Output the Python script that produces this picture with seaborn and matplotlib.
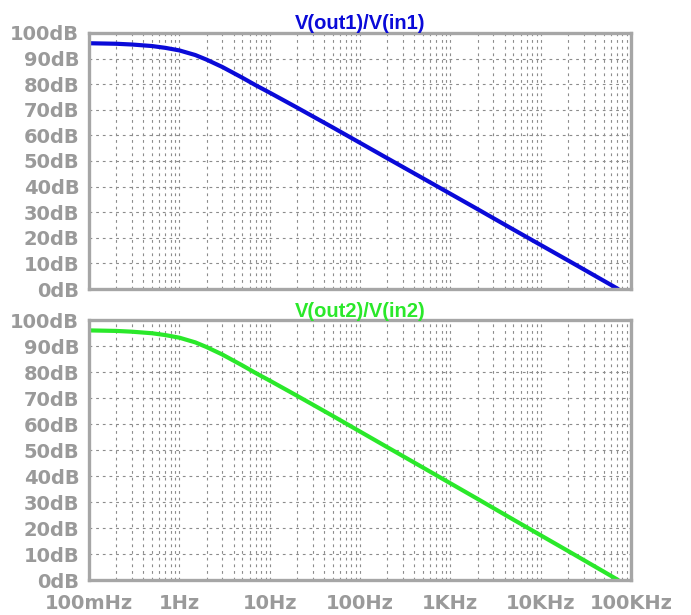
import numpy as np
import pandas as pd
import matplotlib
matplotlib.use("Agg")
import matplotlib.pyplot as plt
import matplotlib.ticker as mticker
import seaborn as sns

# Frequencies (Hz) and magnitudes (dB)
freq = [0.1, 0.2, 0.3, 0.5, 0.7, 1, 1.5, 2, 3, 5, 7, 10, 20, 50, 100, 200, 500,
        1000, 2000, 5000, 10000, 20000, 50000, 72000]
gain1_db = [96.0, 95.8, 95.5, 94.9, 94.2, 93.2, 91.4, 89.6, 86.7, 82.5, 79.6, 76.7,
            70.9, 63.1, 57.1, 51.1, 43.2, 37.2, 31.2, 23.2, 17.2, 11.2, 3.2, 0.0]
gain2_db = [96.0, 95.8, 95.5, 94.9, 94.2, 93.2, 91.4, 89.6, 86.7, 82.5, 79.6, 76.7,
            70.9, 63.1, 57.1, 51.1, 43.2, 37.2, 31.2, 23.2, 17.2, 11.2, 3.2, 0.0]

titles = ["V(out1)/V(in1)", "V(out2)/V(in2)"]
colors = ["#0a0ad8", "#2ae82a"]
y_ticks = [0, 10, 20, 30, 40, 50, 60, 70, 80, 90, 100]
y_labels = [f"{v}dB" for v in y_ticks]
x_ticks = [0.1, 1, 10, 100, 1000, 10000, 100000]
x_labels = ["100mHz", "1Hz", "10Hz", "100Hz", "1KHz", "10KHz", "100KHz"]

sns.set_style("white")
plt.rcParams["font.family"] = ["DejaVu Sans"]
plt.rcParams["font.weight"] = "bold"

W, H = 691, 615
fig = plt.figure(figsize=(W / 100, H / 100), dpi=100)
ax1 = fig.add_axes([89 / W, 1 - 289 / H, 542 / W, 256 / H])
ax2 = fig.add_axes([89 / W, 1 - 580 / H, 542 / W, 260 / H])

frame_col = "#a6a6a6"
label_col = "#9a9a9a"
grid_col = "#8c8c8c"

for i, (ax, g) in enumerate(zip([ax1, ax2], [gain1_db, gain2_db])):
    df = pd.DataFrame({"f": freq, "dB": g})
    sns.lineplot(data=df, x="f", y="dB", ax=ax, color=colors[i], linewidth=3.0)
    ax.set_xscale("log")
    ax.set_xlim(0.1, 100000)
    ax.set_ylim(0, 100)
    ax.set_xlabel("")
    ax.set_ylabel("")
    ax.set_yticks(y_ticks)
    ax.set_yticklabels(y_labels, fontweight="bold")
    ax.xaxis.set_major_locator(mticker.FixedLocator(x_ticks))
    ax.xaxis.set_minor_locator(mticker.LogLocator(base=10, subs=np.arange(2, 10)))
    ax.xaxis.set_minor_formatter(mticker.NullFormatter())
    ax.grid(True, which="both", axis="x", color=grid_col, linestyle=(0, (2.5, 3.5)), linewidth=0.8)
    ax.grid(True, which="major", axis="y", color=grid_col, linestyle=(0, (2.5, 3.5)), linewidth=0.8)
    for s in ax.spines.values():
        s.set_color(frame_col)
        s.set_linewidth(2.4)
    ax.tick_params(axis="y", which="major", direction="out", length=7, width=2.2,
                   color=frame_col, labelcolor=label_col, labelsize=14, pad=0)
    ax.set_title(titles[i], color=colors[i], fontsize=14.5, fontweight="bold", pad=2.5,
                 family=["Liberation Sans", "DejaVu Sans"])

ax1.set_xticklabels([])
ax1.tick_params(axis="x", which="both", length=0)
ax2.set_xticklabels(x_labels, fontweight="bold")
ax2.tick_params(axis="x", which="major", direction="out", length=7, width=2.2,
                color=frame_col, labelcolor=label_col, labelsize=14, pad=3)
ax2.tick_params(axis="x", which="minor", direction="out", length=4, width=2.0,
                color=frame_col)

fig.savefig("out.png", dpi=100)
